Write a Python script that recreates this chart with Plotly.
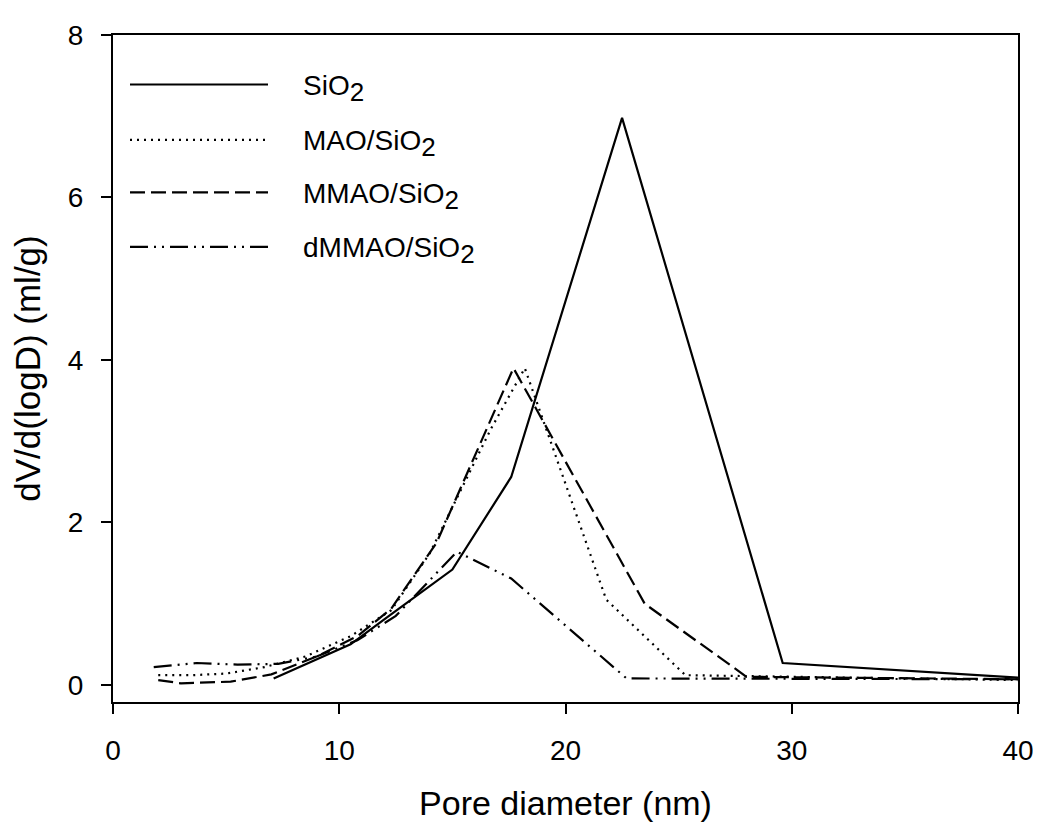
import plotly.graph_objects as go

# ---- data ----
sio2_x = [7.1, 8.9, 10.5, 12.2, 15.0, 17.6, 22.5, 29.6, 40.0]
sio2_y = [0.08, 0.30, 0.50, 0.85, 1.42, 2.56, 6.98, 0.27, 0.09]

mao_x = [2.0, 3.5, 5.0, 6.7, 8.5, 10.5, 12.3, 14.0, 16.7, 18.2, 21.8, 25.3, 40.0]
mao_y = [0.12, 0.12, 0.14, 0.22, 0.35, 0.60, 0.92, 1.62, 3.15, 3.90, 1.05, 0.12, 0.06]

mmao_x = [2.0, 3.0, 5.2, 7.0, 9.0, 10.8, 12.3, 14.3, 17.7, 23.5, 28.0, 40.0]
mmao_y = [0.06, 0.02, 0.04, 0.13, 0.35, 0.60, 0.94, 1.75, 3.90, 1.00, 0.10, 0.07]

dmmao_x = [1.8, 3.7, 5.5, 7.3, 9.0, 10.8, 12.5, 15.2, 17.6, 22.7, 40.0]
dmmao_y = [0.22, 0.27, 0.25, 0.26, 0.35, 0.55, 0.85, 1.64, 1.31, 0.08, 0.07]

SUB2 = "<sub><span style='font-size:26px'>2</span></sub>"
series_names = ["SiO" + SUB2, "MAO/SiO" + SUB2, "MMAO/SiO" + SUB2, "dMMAO/SiO" + SUB2]
x_ticks = [0, 10, 20, 30, 40]
y_ticks = [0, 2, 4, 6, 8]

dashes = ["solid", "2px,5px", "15px,6px", "18px,6px,2px,6px,2px,6px"]

fig = go.Figure()
for xs, ys, name, d in zip([sio2_x, mao_x, mmao_x, dmmao_x],
                           [sio2_y, mao_y, mmao_y, dmmao_y],
                           series_names, dashes):
    fig.add_trace(go.Scatter(x=xs, y=ys, mode="lines", name=name,
                             line=dict(color="black", width=2.2, dash=d),
                             showlegend=False))

FONT = "Liberation Sans, Arial, sans-serif"

# page has an 8px body margin; figure coordinates = page coordinates - 8
OFF = 8
W, H = 1041, 824
ml, mr, mt, mb = 113 - OFF, W - (1018 - OFF), 28 - OFF, H - (702 - OFF)
pw, ph = W - ml - mr, H - mt - mb


def px(xp):
    return (xp - OFF - ml) / pw


def py(yp):
    return 1 - (yp - OFF - mt) / ph


# manual legend (long line samples like the original)
leg_y = [78, 134, 187, 242]
for yy, name, d in zip(leg_y, series_names, dashes):
    fig.add_shape(type="line", xref="paper", yref="paper",
                  x0=px(130), x1=px(268), y0=py(yy), y1=py(yy),
                  line=dict(color="black", width=2.2, dash=d))
    fig.add_annotation(xref="paper", yref="paper", x=px(301), y=py(yy + 4),
                       text=name, showarrow=False, xanchor="left", yanchor="middle",
                       font=dict(family=FONT, size=28, color="black"))

axis_common = dict(showline=True, linecolor="black", linewidth=2, mirror=True,
                   ticks="outside", ticklen=10, tickwidth=2, tickcolor="black",
                   showgrid=False, zeroline=False,
                   tickfont=dict(family=FONT, size=28, color="black"))

fig.update_layout(
    width=W, height=H,
    margin=dict(l=ml, r=mr, t=mt, b=mb),
    paper_bgcolor="white", plot_bgcolor="white",
    xaxis=dict(range=[0, 40], tickvals=x_ticks, ticklabelstandoff=12,
               title=dict(text="Pore diameter (nm)", standoff=27,
                          font=dict(family=FONT, size=34, color="black")),
               **axis_common),
    yaxis=dict(range=[-0.21, 8], tickvals=y_ticks, ticklabelstandoff=12,
               title=dict(text="dV/d(logD) (ml/g)", standoff=22,
                          font=dict(family=FONT, size=35, color="black")),
               **axis_common),
)

fig.write_html("out.html")
